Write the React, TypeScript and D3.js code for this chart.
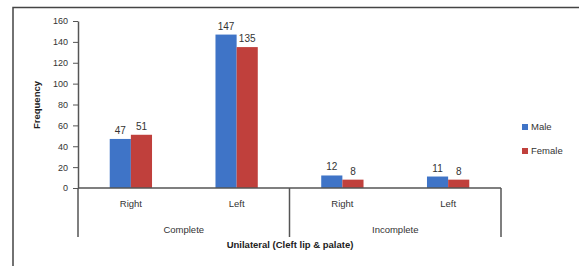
import * as d3 from 'd3';
import React, {useEffect, useRef} from 'react';

// categories: inner (side) and outer (type)
const sides = ['Right', 'Left', 'Right', 'Left'];
const groups = ['Complete', 'Incomplete'];
const series = ['Male', 'Female'];
const male = [47, 147, 12, 11];
const female = [51, 135, 8, 8];
const yTicks = [0, 20, 40, 60, 80, 100, 120, 140, 160];

const colors = ['#3f74c7', '#c0403c'];

export default function App() {
    const ref = useRef<SVGSVGElement | null>(null);

    useEffect(() => {
        const svg = d3.select(ref.current);
        svg.selectAll('*').remove();

        const font = 'Liberation Sans, Arial, sans-serif';
        const textColor = '#333';

        // outer frame (right and bottom edges run off the picture)
        svg.append('rect')
            .attr('x', 13).attr('y', 7.5)
            .attr('width', 580).attr('height', 270)
            .attr('fill', '#fff')
            .attr('stroke', '#444')
            .attr('stroke-width', 1.5);

        const left = 78, right = 501, top = 21, bottom = 188;

        const y = d3.scaleLinear().domain([0, 160]).range([bottom, top]);
        const x = d3.scaleBand<number>()
            .domain(d3.range(sides.length))
            .range([left, right]);
        const inner = d3.scaleBand<number>()
            .domain([0, 1])
            .range([0, x.bandwidth() * 0.4])
            .padding(0);
        const offset = x.bandwidth() * 0.3;

        const g = svg.append('g');

        // y axis
        const yAxis = d3.axisLeft(y)
            .tickValues(yTicks)
            .tickSize(5)
            .tickPadding(5)
            .tickSizeOuter(0);
        const ya = g.append('g')
            .attr('transform', `translate(${left},0)`)
            .call(yAxis);
        ya.select('.domain').attr('stroke', '#555').attr('stroke-width', 1.5);
        ya.selectAll('line').attr('stroke', '#555');
        ya.selectAll('text')
            .attr('fill', textColor)
            .style('font-family', font)
            .style('font-size', '9px');

        // bars
        const vals = [male, female];
        vals.forEach((arr, s) => {
            g.selectAll(`.bar${s}`)
                .data(arr)
                .enter()
                .append('rect')
                .attr('x', (d, i) => (x(i) as number) + offset + (inner(s) as number))
                .attr('y', (d) => y(d))
                .attr('width', inner.bandwidth())
                .attr('height', (d) => bottom - y(d))
                .attr('fill', colors[s]);

            g.selectAll(`.lab${s}`)
                .data(arr)
                .enter()
                .append('text')
                .attr('x', (d, i) => (x(i) as number) + offset + (inner(s) as number) + inner.bandwidth() / 2)
                .attr('y', (d) => y(d) - 5)
                .attr('text-anchor', 'middle')
                .attr('fill', textColor)
                .style('font-family', font)
                .style('font-size', '10px')
                .text((d) => d);
        });

        // x axis line
        g.append('line')
            .attr('x1', left).attr('x2', right)
            .attr('y1', bottom).attr('y2', bottom)
            .attr('stroke', '#555').attr('stroke-width', 1.5);

        // group dividers
        const groupEdges = [left, x(2) as number, right];
        groupEdges.forEach((gx) => {
            g.append('line')
                .attr('x1', gx).attr('x2', gx)
                .attr('y1', bottom).attr('y2', 237)
                .attr('stroke', '#555').attr('stroke-width', 1.5);
        });

        // inner category labels
        g.selectAll('.side')
            .data(sides)
            .enter()
            .append('text')
            .attr('x', (d, i) => (x(i) as number) + x.bandwidth() / 2)
            .attr('y', 207)
            .attr('text-anchor', 'middle')
            .attr('fill', textColor)
            .style('font-family', font)
            .style('font-size', '9.5px')
            .text((d) => d);

        // outer group labels
        g.selectAll('.grp')
            .data(groups)
            .enter()
            .append('text')
            .attr('x', (d, i) => (groupEdges[i] + groupEdges[i + 1]) / 2)
            .attr('y', 233)
            .attr('text-anchor', 'middle')
            .attr('fill', textColor)
            .style('font-family', font)
            .style('font-size', '9.5px')
            .text((d) => d);

        // axis titles
        g.append('text')
            .attr('x', 290).attr('y', 248)
            .attr('text-anchor', 'middle')
            .attr('fill', '#222')
            .style('font-family', font)
            .style('font-size', '9.5px')
            .style('font-weight', 'bold')
            .text('Unilateral (Cleft lip & palate)');

        g.append('text')
            .attr('transform', `translate(40,105) rotate(-90)`)
            .attr('text-anchor', 'middle')
            .attr('fill', '#222')
            .style('font-family', font)
            .style('font-size', '9.5px')
            .style('font-weight', 'bold')
            .text('Frequency');

        // legend
        const legend = g.append('g').attr('transform', 'translate(522,124)');
        series.forEach((s, i) => {
            legend.append('rect')
                .attr('x', 0).attr('y', i * 24)
                .attr('width', 6).attr('height', 6)
                .attr('fill', colors[i]);
            legend.append('text')
                .attr('x', 9).attr('y', i * 24 + 6)
                .attr('fill', textColor)
                .style('font-family', font)
                .style('font-size', '9.5px')
                .text(s);
        });
    }, []);

    return (
        <svg ref={ref} width={579} height={266} style={{position: 'absolute', left: 0, top: 0}} />
    );
}
